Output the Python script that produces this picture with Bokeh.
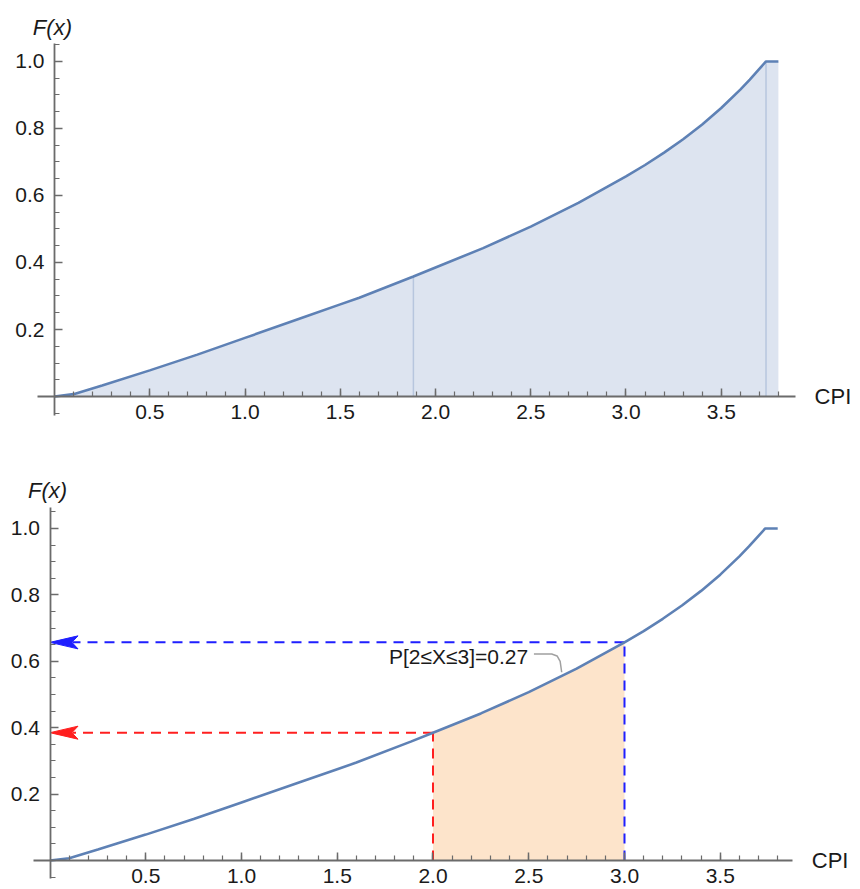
from bokeh.plotting import figure
from bokeh.models import Range1d, FixedTicker, Label, LinearAxis
from bokeh.layouts import column
from bokeh.embed import file_html
from bokeh.resources import INLINE

# ---- data ----
cpi = [0.0, 0.1, 0.25, 0.5, 0.75, 1.0, 1.3, 1.5, 1.6, 1.884, 2.0, 2.25, 2.5,
       2.75, 3.0, 3.1, 3.2, 3.3, 3.4, 3.5, 3.6, 3.65, 3.7, 3.735, 3.8]
cdf = [0.0, 0.007, 0.033, 0.078, 0.125, 0.175, 0.235, 0.275, 0.295, 0.358, 0.385,
       0.443, 0.507, 0.578, 0.657, 0.691, 0.728, 0.768, 0.812, 0.861, 0.916,
       0.946, 0.978, 1.0, 1.0]
break_points = [1.884, 3.735]        # light vertical lines in the upper panel
a_val, b_val = 2.0, 3.0              # interval in the lower panel
prob_label = "P[2≤X≤3]=0.27"

x_major = [0.5, 1.0, 1.5, 2.0, 2.5, 3.0, 3.5]
x_major_labels = ["0.5", "1.0", "1.5", "2.0", "2.5", "3.0", "3.5"]
x_minor = [round(0.1 * i, 1) for i in range(1, 39)]
y_major = [0.2, 0.4, 0.6, 0.8, 1.0]
y_major_labels = ["0.2", "0.4", "0.6", "0.8", "1.0"]
y_minor = [round(0.05 * i, 2) for i in range(-1, 22)]

FONT = "Liberation Sans"
CURVE = "#5e81b5"
AXIS = "#6b6b6b"
TXT = "#1a1a1a"


def base_fig(h, xr, yr, xb, yb):
    p = figure(width=860, height=h, x_range=Range1d(*xr), y_range=Range1d(*yr),
               output_backend="svg", toolbar_location=None,
               min_border_left=0, min_border_right=0,
               min_border_top=0, min_border_bottom=0,
               x_axis_type=None, y_axis_type=None)
    p.outline_line_color = None
    p.xgrid.visible = False
    p.ygrid.visible = False
    p.background_fill_color = "white"
    p.border_fill_color = "white"
    xa = LinearAxis(fixed_location=0, bounds=xb,
                    ticker=FixedTicker(ticks=x_major, minor_ticks=x_minor))
    xa.major_label_overrides = {t: l for t, l in zip(x_major, x_major_labels)}
    ya = LinearAxis(fixed_location=0, bounds=yb,
                    ticker=FixedTicker(ticks=y_major, minor_ticks=y_minor))
    ya.major_label_overrides = {t: l for t, l in zip(y_major, y_major_labels)}
    for ax in (xa, ya):
        ax.axis_line_color = AXIS
        ax.axis_line_width = 1.8
        ax.major_tick_line_color = AXIS
        ax.minor_tick_line_color = AXIS
        ax.major_tick_line_width = 1.5
        ax.minor_tick_line_width = 1.2
        ax.major_tick_in = 8
        ax.major_tick_out = 0
        ax.minor_tick_in = 5
        ax.minor_tick_out = 0
        ax.major_label_text_font = FONT
        ax.major_label_text_font_size = "21px"
        ax.major_label_text_font_style = "normal"
        ax.major_label_text_color = TXT
    xa.major_label_standoff = 8
    ya.major_label_standoff = 10
    p.add_layout(xa, "below")
    p.add_layout(ya, "left")
    return p


def labels(p, fx_x, fx_y, cpi_x):
    p.add_layout(Label(x=fx_x, y=fx_y, text="F(x)", text_font=FONT,
                       text_font_style="italic", text_font_size="22px",
                       text_align="center", text_baseline="alphabetic",
                       text_color=TXT))
    p.add_layout(Label(x=cpi_x, y=0, text="CPI", text_font=FONT,
                       text_font_size="22px", text_align="left",
                       text_baseline="middle", text_color=TXT))


# ---------------- upper panel ----------------
p1 = base_fig(440, (-0.2835, 4.231), (-0.1313, 1.182),
              (-0.089, 3.89), (-0.057, 1.054))
p1.varea(x=cpi, y1=[0] * len(cpi), y2=cdf, fill_color="#dde4f0", fill_alpha=1.0)
for bp in break_points:
    fb = cdf[cpi.index(bp)]
    p1.segment(x0=[bp], y0=[0], x1=[bp], y1=[fb], line_color="#b7c6de", line_width=1.5)
p1.line(cpi, cdf, line_color=CURVE, line_width=2.6)
labels(p1, -0.011, 1.101, 3.99)

# ---------------- lower panel ----------------
p2 = base_fig(449, (-0.2585, 4.2324), (-0.0873, 1.265),
              (-0.086, 3.877), (-0.054, 1.063))
ia, ib = cpi.index(a_val), cpi.index(b_val)
seg_x = cpi[ia:ib + 1]
seg_y = cdf[ia:ib + 1]
p2.varea(x=seg_x, y1=[0] * len(seg_x), y2=seg_y, fill_color="#fde4cb", fill_alpha=1.0)

fa, fb = cdf[ia], cdf[ib]
head_len = 28 / 191.5
head_w = 6.5 / 332.0
for xv, fv, col in ((a_val, fa, "#ff1f1f"), (b_val, fb, "#1f1fff")):
    p2.line([xv, xv], [0, fv], line_color=col, line_width=2, line_dash="10 7")
    p2.line([xv, head_len * 0.8], [fv, fv], line_color=col, line_width=2, line_dash="10 7")
    p2.patch([0, head_len, head_len * 0.78, head_len],
             [fv, fv + head_w, fv, fv - head_w],
             fill_color=col, line_color=col, line_width=1)

p2.line(cpi, cdf, line_color=CURVE, line_width=2.6)

# callout
p2.line([2.527, 2.62, 2.648, 2.664, 2.672], [0.622, 0.622, 0.616, 0.6, 0.567],
        line_color="#a0a0a0", line_width=1.5)
p2.add_layout(Label(x=2.497, y=0.613, text=prob_label, text_font=FONT,
                    text_font_size="21px", text_align="right",
                    text_baseline="middle", text_color=TXT))
labels(p2, -0.013, 1.114, 3.978)

layout = column(p1, p2, spacing=0)
open("out.html", "w").write(file_html(layout, INLINE))
